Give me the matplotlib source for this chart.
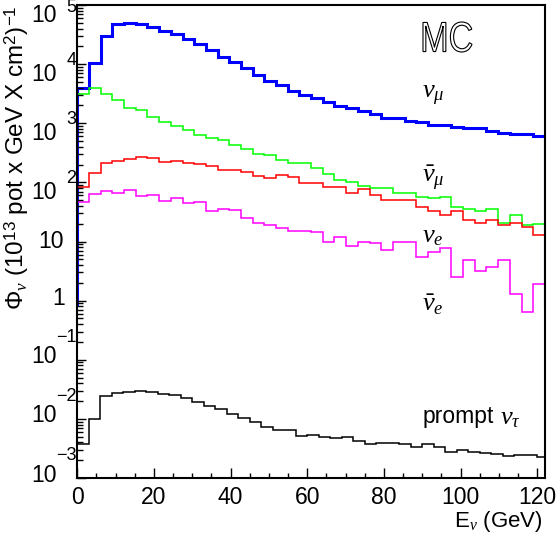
import numpy as np
import matplotlib.pyplot as plt
from matplotlib.ticker import MultipleLocator, LogLocator, NullFormatter
from matplotlib.textpath import TextPath
from matplotlib.patches import PathPatch
from matplotlib.font_manager import FontProperties
from matplotlib.transforms import Affine2D

plt.rcParams['font.family'] = ['Liberation Sans', 'DejaVu Sans']
plt.rcParams['mathtext.fontset'] = 'custom'
plt.rcParams['mathtext.rm'] = 'Liberation Sans'
plt.rcParams['mathtext.it'] = 'Liberation Serif:italic'
plt.rcParams['mathtext.bf'] = 'Liberation Sans:bold'

# binning (GeV)
edges_flav = np.arange(41) * 3.05   # 40 bins, 0-122 GeV
edges_tau = np.arange(42) * 3.0     # 41 bins, 0-123 GeV

# fluxes
numu = [4000, 10300, 29900, 47100, 50200, 47700, 41900, 36300, 31900, 27000,
        22200, 17300, 13400, 10700, 8490, 6550, 5250, 4380, 3560, 2950,
        2640, 2260, 1960, 1790, 1610, 1420, 1230, 1230, 1110, 1050,
        947, 922, 875, 820, 820, 750, 693, 658, 658, 609]
green = [3080, 3900, 3080, 2470, 1830, 1680, 1290, 1060, 898, 769,
         633, 570, 521, 423, 367, 302, 287, 239, 210, 210,
         173, 139, 110, 103, 86.8, 79.3, 79.3, 65.3, 66.9, 57.3,
         53.7, 55.8, 38.8, 35.0, 33.2, 35.9, 20.8, 28.4, 19.0, 19.8]
red = [84.6, 142, 215, 233, 245, 265, 255, 224, 230, 210,
       202, 192, 162, 162, 152, 128, 120, 133, 122, 99,
       97, 84.6, 82, 66, 76, 60, 50.3, 50.3, 50.3, 38.5,
       33, 28.1, 32.4, 23.1, 20.8, 23.1, 19.3, 20.3, 17.6, 13.0]
magenta = [47.2, 63.6, 72.4, 67.0, 74.3, 58.9, 60.4, 48.4, 55.1, 45.4,
           47.2, 33.2, 35.5, 34.5, 25.3, 20.6, 18.8, 16.9, 15.2, 15.2,
           14.3, 9.93, 11.7, 8.39, 9.93, 9.55, 7.18, 9.93, 9.93, 5.40,
           6.56, 7.66, 2.48, 4.87, 3.2, 3.66, 4.87, 1.28, 0.65, 1.89]
nutau = [0.00370, 0.00982, 0.0244, 0.0270, 0.0281, 0.0296, 0.0289, 0.0267, 0.0253, 0.0228,
         0.0193, 0.0167, 0.0145, 0.0119, 0.0102, 0.00885, 0.00738, 0.00655, 0.00655, 0.00520,
         0.00533, 0.00488, 0.00469, 0.00500, 0.00428, 0.00376, 0.00386, 0.00386, 0.00376, 0.00339,
         0.00376, 0.00330, 0.00279, 0.00298, 0.00272, 0.00261, 0.00251, 0.00239, 0.00248, 0.00248,
         0.00224]

ytick_exps = [-3, -2, -1, 0, 1, 2, 3, 4, 5]
xticks = [0, 20, 40, 60, 80, 100, 120]

W, H = 559, 538
fig = plt.figure(figsize=(W / 100, H / 100), dpi=100)
ax = fig.add_axes([77.3 / W, 1 - 478 / H, (545.3 - 77.3) / W, (478 - 5) / H])

ax.stairs(numu, edges_flav, baseline=0.8, color='#0000ff', lw=2.2)
ax.stairs(green, edges_flav, baseline=0.8, color='#00ff00', lw=1.1)
ax.stairs(red, edges_flav, baseline=0.8, color='#ff0000', lw=1.1)
ax.stairs(magenta, edges_flav, baseline=0.8, color='#ff00ff', lw=1.1)
ax.stairs(nutau, edges_tau, baseline=1e-3, color='black', lw=1.1)

ax.set_xlim(0, 122.1)
ax.set_yscale('log')
ax.set_ylim(1e-3, 1e5)

for s in ax.spines.values():
    s.set_linewidth(1.5)

ax.set_xticks(xticks)
ax.set_xticklabels([str(v) for v in xticks])
ax.xaxis.set_minor_locator(MultipleLocator(5))
ax.tick_params(axis='x', which='both', direction='in', top=False, labelsize=16.5, pad=5.5)
ax.tick_params(axis='x', which='major', length=7.2, width=1)
ax.tick_params(axis='x', which='minor', length=3.6, width=1)

ax.yaxis.set_major_locator(LogLocator(base=10, numticks=20))
ax.yaxis.set_minor_locator(LogLocator(base=10, subs=np.arange(2, 10), numticks=20))
ax.yaxis.set_minor_formatter(NullFormatter())
ax.tick_params(axis='y', which='both', direction='in', right=False, labelleft=False)
ax.tick_params(axis='y', which='major', length=6.5, width=1)
ax.tick_params(axis='y', which='minor', length=4.5, width=1)

# ROOT-style y labels: "10" with a detached exponent
for n in ytick_exps:
    kw = dict(xy=(0, 10.0 ** n), xycoords=('axes fraction', 'data'),
              textcoords='offset pixels', va='center', annotation_clip=False)
    if n == 0:
        ax.annotate('1', xytext=(-12, 2), ha='right', fontsize=16.5, **kw)
    elif n == 1:
        ax.annotate('10', xytext=(-14, 0), ha='right', fontsize=16.5, **kw)
    elif n > 1:
        ax.annotate('10', xytext=(-21, -10), ha='right', fontsize=16.5, **kw)
        ax.annotate(str(n), xytext=(-1, 4 if n < 5 else -2), ha='right',
                    fontsize=13, **kw)
    else:
        ax.annotate('10', xytext=(-21, 3), ha='right', fontsize=16.5, **kw)
        ax.annotate(str(n).replace('-', '\u2212'), xytext=(-1, 22), ha='right',
                    fontsize=13, **kw)

fig.text(17 / W, 1 - 158 / H,
         r'$\Phi_{\nu}$ (10$^{13}$ pot x GeV X cm$^{2}$)$^{-1}$',
         rotation=90, ha='center', va='center', fontsize=17.5)
fig.text(543 / W, 1 - 521 / H, r'E$_{\nu}$ (GeV)', ha='right', va='center', fontsize=16)

# curve labels
fig.text(422 / W, 1 - 96 / H, r'$\nu_{\mu}$', fontsize=19, va='center')
fig.text(422 / W, 1 - 178 / H, r'$\bar{\nu}_{\mu}$', fontsize=19, va='center')
fig.text(422 / W, 1 - 236 / H, r'$\nu_{e}$', fontsize=19, va='center')
fig.text(422 / W, 1 - 305 / H, r'$\bar{\nu}_{e}$', fontsize=19, va='center')
fig.text(423 / W, 1 - 416 / H, 'prompt', fontsize=16.5, va='center')
fig.text(500 / W, 1 - 418 / H, r'$\nu_{\tau}$', fontsize=19, va='center')

# outlined "MC"
tp = TextPath((0, 0), 'MC', size=100, prop=FontProperties(family='Liberation Sans'))
bb = tp.get_extents()
tr = Affine2D().translate(-bb.x0, -bb.y0).scale(49 / bb.width, 30 / bb.height).translate(423, H - 52)
fig.add_artist(PathPatch(tp, transform=tr, facecolor='white', edgecolor='black', lw=0.8))

fig.savefig('out.png', dpi=100)
